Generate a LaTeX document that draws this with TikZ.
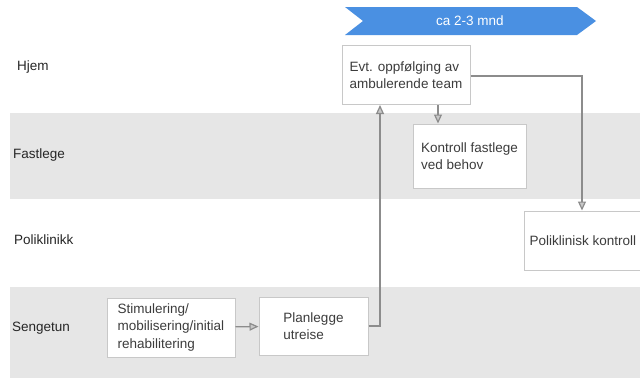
\documentclass[tikz,border=0pt]{standalone}
\usepackage{fontspec}
\setmainfont{Liberation Sans}
\usepackage{xcolor}
\usepackage{tikz}
\usetikzlibrary{arrows.meta, positioning, calc}
\definecolor{lanegray}{RGB}{230,230,230}
\definecolor{boxborder}{RGB}{200,200,200}
\definecolor{linegray}{RGB}{140,140,140}
\definecolor{headgray}{RGB}{200,200,200}
\definecolor{textgray}{RGB}{60,60,60}
\definecolor{timeblue}{RGB}{74,144,226}
\tikzstyle{lane} = [anchor=west, inner sep=0pt, text=black!85, font=\fontsize{13.5}{17}\selectfont]
\tikzstyle{task} = [rectangle, draw=boxborder, line width=1pt, fill=white, align=left, text=textgray, font=\fontsize{13.5}{17.5}\selectfont, inner sep=0pt]
\tikzstyle{arrow} = [draw=linegray, line width=1.2pt, -{Triangle[length=9pt, width=8pt, fill=headgray]}]

\begin{document}
\begin{tikzpicture}[x=1pt, y=-1pt]
\clip (0,0) rectangle (640,378);
\fill[white] (0,0) rectangle (640,378);

% ===== LANES =====
\fill[lanegray] (10,113) rectangle (640,199);
\fill[lanegray] (10,287) rectangle (640,378);
\node (hjem) [lane] at (17,67) {Hjem};
\node (fastlege) [lane] at (13,155) {Fastlege};
\node (poliklinikk) [lane] at (14,240) {Poliklinikk};
\node (sengetun) [lane] at (12,328) {Sengetun};

% ===== TIME ARROW =====
\fill[timeblue] (345,7) -- (577,7) -- (596,21) -- (577,35) -- (345,35) -- (363,21) -- cycle;
\node (varighet) [text=white, font=\fontsize{13.5}{16}\selectfont] at (470,21) {ca 2-3 mnd};

% ===== TASKS =====
\node (oppfolging) [task, minimum width=128pt, minimum height=59pt] at (406,75) {Evt. oppfølging av\\ambulerende team};
\node (kontroll) [task, minimum width=113pt, minimum height=64pt] at (469.5,156) {Kontroll fastlege\\ved behov};
\node (poliklinisk) [task, minimum width=118pt, minimum height=59pt] at (583,240.5) {Poliklinisk kontroll};
\node (stimulering) [task, minimum width=128pt, minimum height=59pt] at (171,327.5) {Stimulering/\\mobilisering/initial\\rehabilitering};
\node (utreise) [task, minimum width=109pt, minimum height=58pt] at (313.5,326) {Planlegge\\utreise};

% ===== ARROWS =====
\draw [arrow] (stimulering) -- (utreise);
\draw [arrow] (utreise.east) -| ([xshift=-26pt]oppfolging.south);
\draw [arrow] ([xshift=32pt]oppfolging.south) -- ([xshift=32pt]oppfolging.south |- kontroll.north);
\draw [arrow] ([yshift=-1pt]oppfolging.east) -| ([xshift=-1pt]poliklinisk.north);

\end{tikzpicture}
\end{document}
